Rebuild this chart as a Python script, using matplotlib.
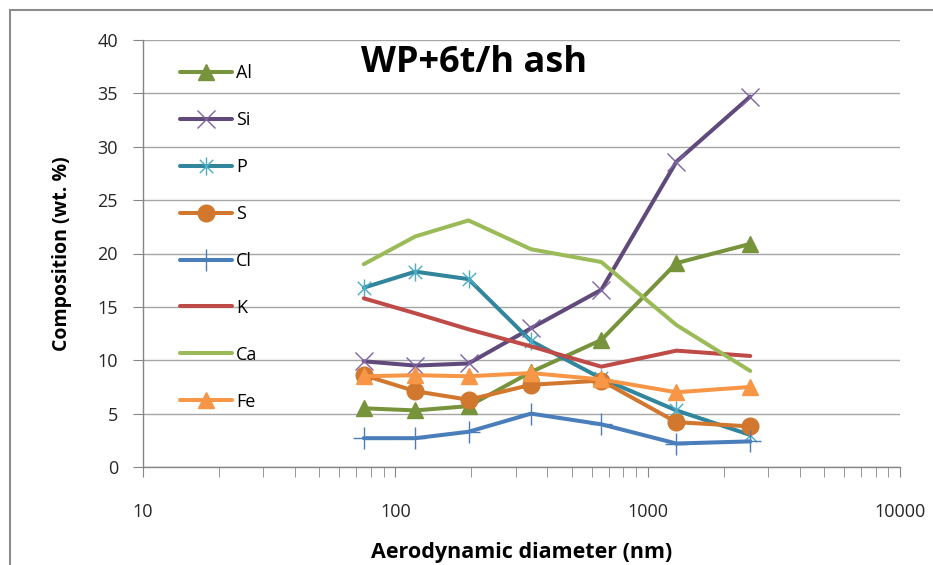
import matplotlib
matplotlib.use('Agg')
import matplotlib.pyplot as plt
from matplotlib.path import Path
from matplotlib.patches import Rectangle
from matplotlib.ticker import LogLocator, FixedLocator, NullFormatter, FuncFormatter

plt.rcParams['font.family'] = ['Open Sans', 'DejaVu Sans']

# particle size bins (nm)
diameter = [75, 120, 195, 345, 655, 1300, 2550]

al = [5.5, 5.3, 5.7, 8.9, 11.9, 19.1, 20.9]
si = [9.9, 9.5, 9.7, 13.0, 16.6, 28.6, 34.7]
p = [16.8, 18.3, 17.6, 11.8, 8.3, 5.3, 3.0]
s = [8.6, 7.1, 6.3, 7.7, 8.1, 4.2, 3.8]
cl = [2.7, 2.7, 3.3, 5.0, 4.0, 2.2, 2.4]
k = [15.8, 14.4, 12.9, 11.3, 9.4, 10.9, 10.4]
ca = [19.0, 21.6, 23.1, 20.4, 19.2, 13.3, 9.0]
fe = [8.5, 8.6, 8.5, 8.8, 8.2, 7.0, 7.5]

# asterisk marker: an x with a vertical bar
star = Path([(-1, -1), (1, 1), (-1, 1), (1, -1), (0, -1.35), (0, 1.35)],
            [Path.MOVETO, Path.LINETO, Path.MOVETO, Path.LINETO, Path.MOVETO, Path.LINETO])

series = [
    ('Al', al, '#77933C', dict(marker='^', ms=12)),
    ('Si', si, '#604A7B', dict(marker='x', ms=13, mew=1.0, mec='#8064A2')),
    ('P', p, '#31859C', dict(marker=star, ms=13, mew=1.0, mec='#4BACC6')),
    ('S', s, '#D2772E', dict(marker='o', ms=12)),
    ('Cl', cl, '#4A7EBB', dict(marker='+', ms=16, mew=1.0)),
    ('K', k, '#BE4B48', dict(marker='None')),
    ('Ca', ca, '#9BBB59', dict(marker='None')),
    ('Fe', fe, '#F79646', dict(marker='^', ms=12)),
]

fig = plt.figure(figsize=(9.33, 5.65), dpi=100)
ax = fig.add_axes([143/933, 1 - 467/565, 757/933, 427/565])

for name, vals, color, mk in series:
    ax.plot(diameter, vals, color=color, lw=2.9, label=name,
            solid_joinstyle='round', solid_capstyle='round', **mk)

ax.set_xscale('log')
ax.set_xlim(10, 10000)
ax.set_ylim(0, 40)
ax.yaxis.set_major_locator(FixedLocator(range(0, 41, 5)))
ax.xaxis.set_major_locator(LogLocator(base=10))
ax.xaxis.set_minor_locator(LogLocator(base=10, subs=range(2, 10)))
ax.xaxis.set_minor_formatter(NullFormatter())
ax.xaxis.set_major_formatter(FuncFormatter(lambda v, pos: f'{v:.0f}'))

ax.grid(axis='y', color='#a6a6a6', lw=1.0)
ax.set_axisbelow(True)
for side in ('top', 'right'):
    ax.spines[side].set_visible(False)
for side in ('left', 'bottom'):
    ax.spines[side].set_color('#868686')
    ax.spines[side].set_linewidth(1.0)

ax.tick_params(axis='y', which='major', direction='out', length=7, color='#868686',
               labelsize=13, pad=11, labelcolor='#262626')
ax.tick_params(axis='x', which='both', direction='out', length=7, color='#868686',
               labelsize=13, pad=19, labelcolor='#262626')

ax.set_ylabel('Composition (wt. %)', fontsize=14, fontweight='bold', labelpad=18)
ax.set_xlabel('Aerodynamic diameter (nm)', fontsize=15.5, fontweight='bold', labelpad=15)

ax.text(0.437, 0.945, 'WP+6t/h ash', transform=ax.transAxes, ha='center', va='center',
        fontsize=26, fontweight='bold')

leg = ax.legend(loc='upper left', bbox_to_anchor=(0.049, 0.943), frameon=False,
                fontsize=13, handlelength=2.9, handletextpad=0.2, labelspacing=1.6,
                borderpad=0, borderaxespad=0)

# outer chart frame
fig.patches.append(Rectangle((10/933, -0.1), 1.2, (565 - 10)/565 + 0.1,
                             transform=fig.transFigure, fill=False,
                             edgecolor='#8c8c8c', lw=1.5))

fig.savefig('out.png', dpi=100)
